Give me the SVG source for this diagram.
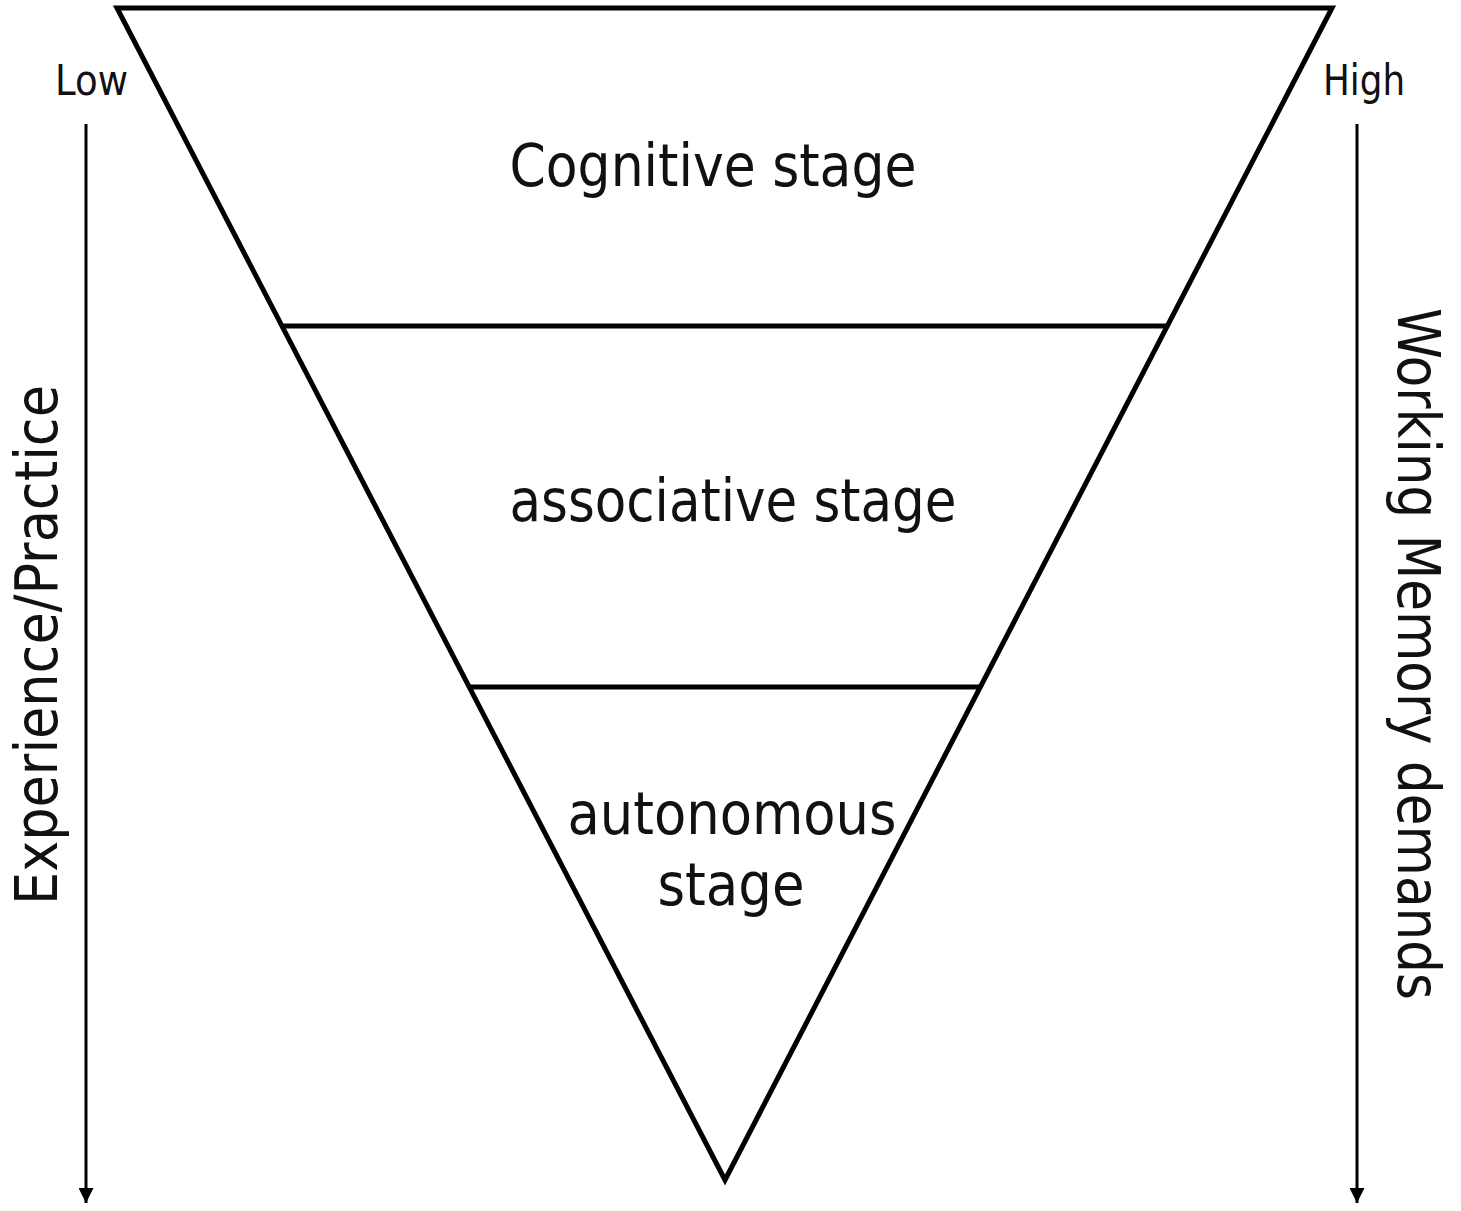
<svg xmlns="http://www.w3.org/2000/svg" width="1461" height="1211" viewBox="0 0 1461 1211">
<style>
.t{font-family:"DejaVu Sans Condensed","DejaVu Sans",sans-serif;fill:#111;}
.big{font-size:58px;}
.sm{font-size:42px;}
.ln{stroke:#000;stroke-width:5;fill:none;stroke-linejoin:miter;}
.ax{stroke:#000;stroke-width:3;fill:none;}
</style>
<defs>
<marker id="ah" viewBox="0 0 10 10" refX="10" refY="5" markerWidth="5" markerHeight="5" orient="auto" markerUnits="strokeWidth">
<path d="M0,0 L10,5 L0,10 z" fill="#000"/>
</marker>
</defs>
<rect width="1461" height="1211" fill="#fff"/>
<g id="funnel">
<polygon class="ln" points="117,8 1332,8 725,1180"/>
</g>
<g id="cognitive">
<text class="t big" x="713" y="186" text-anchor="middle" textLength="407" lengthAdjust="spacingAndGlyphs">Cognitive stage</text>
</g>
<g id="associative">
<text class="t big" x="733" y="521" text-anchor="middle" textLength="447" lengthAdjust="spacingAndGlyphs">associative stage</text>
</g>
<g id="autonomous">
<text class="t big" x="732" y="834" text-anchor="middle" textLength="329" lengthAdjust="spacingAndGlyphs">autonomous</text>
<text class="t big" x="731" y="905" text-anchor="middle" textLength="147" lengthAdjust="spacingAndGlyphs">stage</text>
</g>
<g id="low"><text class="t sm" x="55" y="95" textLength="73" lengthAdjust="spacingAndGlyphs">Low</text></g>
<g id="high"><text class="t sm" x="1323" y="95" textLength="82" lengthAdjust="spacingAndGlyphs">High</text></g>
<g id="experience"><text class="t big" transform="translate(57,645) rotate(-90)" text-anchor="middle" textLength="520" lengthAdjust="spacingAndGlyphs">Experience/Practice</text></g>
<g id="wm"><text class="t big" transform="translate(1398,654) rotate(90)" text-anchor="middle" textLength="692" lengthAdjust="spacingAndGlyphs">Working Memory demands</text></g>
<g id="connectors">
<line class="ln" x1="281" y1="326" x2="1168" y2="326"/>
<line class="ln" x1="469" y1="687" x2="980" y2="687"/>
<line class="ax" x1="86" y1="124" x2="86" y2="1203" marker-end="url(#ah)"/>
<line class="ax" x1="1357" y1="124" x2="1357" y2="1203" marker-end="url(#ah)"/>
</g>
</svg>
